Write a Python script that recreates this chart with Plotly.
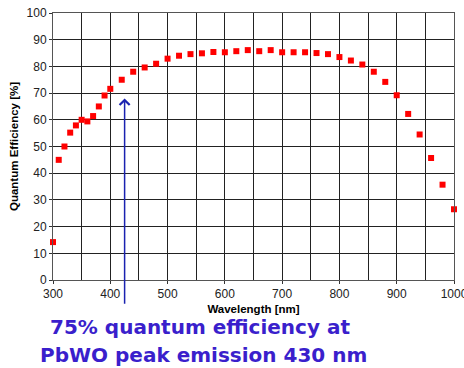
import plotly.graph_objects as go

wavelength = [300, 310, 320, 330, 340, 350, 360, 370, 380, 390, 400,
              420, 440, 460, 480, 500, 520, 540, 560, 580, 600, 620, 640, 660, 680,
              700, 720, 740, 760, 780, 800, 820, 840, 860, 880, 900, 920, 940, 960, 980, 1000]
qe = [14.2, 45.0, 50.0, 55.2, 57.9, 60.0, 59.4, 61.4, 65.0, 69.1, 71.6,
      75.0, 78.0, 79.6, 81.0, 82.9, 84.0, 84.6, 84.9, 85.4, 85.3, 85.7, 86.1, 85.7, 86.1,
      85.3, 85.3, 85.3, 85.0, 84.6, 83.5, 82.2, 80.7, 78.0, 74.2, 69.2, 62.2, 54.5, 45.7, 35.7, 26.5]

arrow_x = 425
arrow_tip_y = 68
arrow_tail_y = -9.5

W, H = 464, 368
L, R, T, B = 53, 10, 13, 88

fig = go.Figure()
fig.add_trace(go.Scatter(
    x=wavelength, y=qe, mode="markers",
    marker=dict(symbol="square", size=6, color="#ff0000", line=dict(width=0)),
    cliponaxis=False, showlegend=False))

fig.add_annotation(x=arrow_x, y=arrow_tip_y, ax=arrow_x, ay=arrow_tail_y,
                   xref="x", yref="y", axref="x", ayref="y",
                   showarrow=True, arrowhead=4, arrowsize=1.3, arrowwidth=1.5,
                   arrowcolor="#1a22b0", text="")

big_font = dict(family="DejaVu Sans", size=20, color="#3a1fcc")
fig.add_annotation(x=(48 - L) / (W - L - R), y=-(327 - (H - B)) / (H - T - B),
                   xref="paper", yref="paper", xanchor="left", yanchor="middle",
                   showarrow=False, text="<b>75% quantum efficiency at</b>", font=big_font)
fig.add_annotation(x=(38 - L) / (W - L - R), y=-(355 - (H - B)) / (H - T - B),
                   xref="paper", yref="paper", xanchor="left", yanchor="middle",
                   showarrow=False, text="<b>PbWO peak emission 430 nm</b>", font=big_font)

fig.update_xaxes(range=[300, 1000], dtick=100, tick0=300, automargin=False,
                 ticklabeloverflow="allow",
                 showgrid=True, gridcolor="#222222", gridwidth=1,
                 minor=dict(dtick=50, showgrid=True, gridcolor="#222222", gridwidth=1),
                 showline=True, linecolor="#555555", linewidth=1, mirror=True,
                 ticks="outside", ticklen=3, tickcolor="#333333",
                 tickfont=dict(family="Liberation Sans, Arial", size=12, color="#222222"),
                 zeroline=False,
                 title=dict(text="<b>Wavelength [nm]</b>", standoff=4,
                            font=dict(family="Liberation Sans, Arial", size=11.5, color="#000000")))
fig.update_yaxes(range=[0, 100], dtick=10, automargin=False,
                 showgrid=True, gridcolor="#222222", gridwidth=1,
                 showline=True, linecolor="#555555", linewidth=1, mirror=True,
                 ticks="outside", ticklen=3, tickcolor="#333333",
                 tickfont=dict(family="Liberation Sans, Arial", size=12, color="#222222"),
                 zeroline=False,
                 title=dict(text="<b>Quantum Efficiency [%]</b>", standoff=5,
                            font=dict(family="Liberation Sans, Arial", size=11.5, color="#000000")))

fig.update_layout(width=W, height=H, margin=dict(l=L, r=R, t=T, b=B, autoexpand=False),
                  plot_bgcolor="white", paper_bgcolor="white", showlegend=False)

fig.write_html("out.html", config={"displayModeBar": False},
               post_script="document.body.style.margin='0';document.body.style.overflow='hidden';")
